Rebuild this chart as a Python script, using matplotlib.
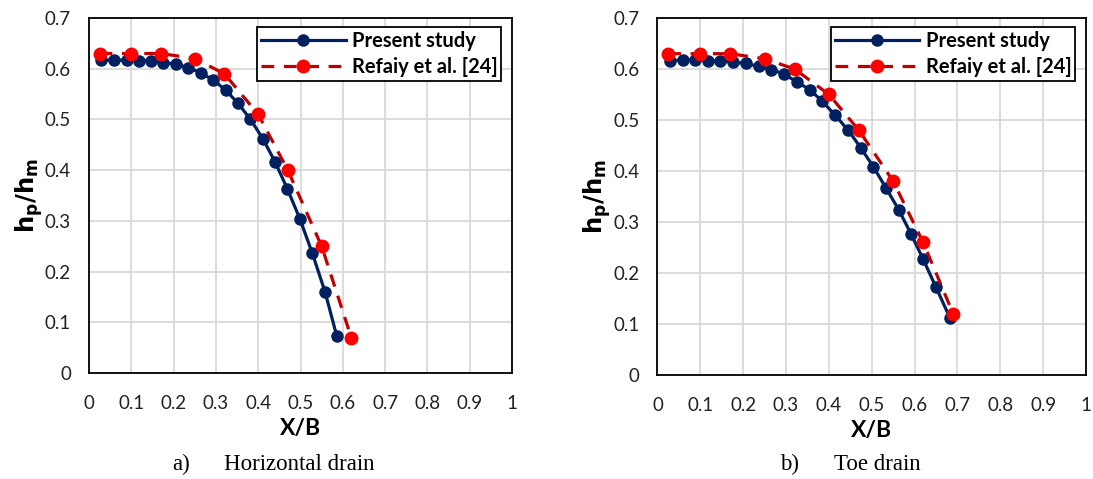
import numpy as np
import matplotlib
matplotlib.use("Agg")
import matplotlib.pyplot as plt

# a) Horizontal drain
x_hor_present = [0.028, 0.059, 0.089, 0.118, 0.147, 0.176, 0.206, 0.235, 0.264, 0.293,
                 0.323, 0.352, 0.381, 0.411, 0.440, 0.469, 0.499, 0.528, 0.558, 0.586]
y_hor_present = [0.617, 0.617, 0.617, 0.616, 0.616, 0.612, 0.609, 0.602, 0.592, 0.578,
                 0.558, 0.532, 0.501, 0.462, 0.416, 0.363, 0.303, 0.236, 0.160, 0.072]
x_hor_refaiy = [0.025, 0.10, 0.17, 0.25, 0.32, 0.40, 0.47, 0.55, 0.62]
y_hor_refaiy = [0.63, 0.63, 0.63, 0.62, 0.59, 0.51, 0.40, 0.25, 0.07]

# b) Toe drain
x_toe_present = [0.029, 0.059, 0.088, 0.117, 0.147, 0.177, 0.207, 0.236, 0.266, 0.295, 0.325, 0.356,
                 0.384, 0.414, 0.445, 0.474, 0.504, 0.533, 0.563, 0.592, 0.620, 0.650, 0.683]
y_toe_present = [0.616, 0.618, 0.618, 0.616, 0.616, 0.613, 0.611, 0.605, 0.599, 0.590, 0.575, 0.559,
                 0.537, 0.510, 0.480, 0.446, 0.408, 0.367, 0.324, 0.276, 0.227, 0.172, 0.111]
x_toe_refaiy = [0.025, 0.10, 0.17, 0.25, 0.32, 0.40, 0.47, 0.55, 0.62, 0.69]
y_toe_refaiy = [0.63, 0.63, 0.63, 0.62, 0.60, 0.55, 0.48, 0.38, 0.26, 0.12]

x_ticks = [0, 0.1, 0.2, 0.3, 0.4, 0.5, 0.6, 0.7, 0.8, 0.9, 1]
y_ticks = [0, 0.1, 0.2, 0.3, 0.4, 0.5, 0.6, 0.7]
x_ticklabels = ["0", "0.1", "0.2", "0.3", "0.4", "0.5", "0.6", "0.7", "0.8", "0.9", "1"]
y_ticklabels = ["0", "0.1", "0.2", "0.3", "0.4", "0.5", "0.6", "0.7"]

plt.rcParams["font.family"] = ["Lato", "DejaVu Sans"]

W, H = 1093, 479
fig = plt.figure(figsize=(W / 100, H / 100), dpi=100)

def px_axes(x0, y0, x1, y1):
	# pixel box (top-left origin) -> figure fraction
	return [x0 / W, 1 - y1 / H, (x1 - x0) / W, (y1 - y0) / H]

def draw_panel(ax, xp, yp, xr, yr):
	ax.plot(xp, yp, color="#002060", lw=2.3, marker="o", ms=8,
			mfc="#002060", mec="#002060", label="Present study", zorder=3)
	ax.plot(xr, yr, color="#C00000", lw=2.3, dashes=(4, 3), marker="o", ms=9,
			mfc="#FF0000", mec="#FF0000", label="Refaiy et al. [24]", zorder=4)
	ax.set_xlim(0, 1)
	ax.set_ylim(0, 0.7)
	ax.set_xticks(x_ticks)
	ax.set_yticks(y_ticks)
	ax.set_xticklabels(x_ticklabels)
	ax.set_yticklabels(y_ticklabels)
	ax.tick_params(length=0, labelsize=13.5, pad=13, colors="#222222")
	ax.tick_params(axis="x", pad=16)
	ax.grid(True, color="#d9d9d9", lw=1.3)
	ax.set_axisbelow(True)
	for s in ax.spines.values():
		s.set_color("black")
		s.set_linewidth(1.3)
	ax.set_xlabel("X/B", fontsize=16.5, fontweight="bold", labelpad=4)
	ax.set_ylabel(r"$\mathbf{h_p/h_m}$", fontsize=17.5, labelpad=0)
	leg = ax.legend(loc="upper right", bbox_to_anchor=(0.975, 0.975), frameon=True, fancybox=False,
					edgecolor="black", framealpha=1, handlelength=4.2, borderpad=0.2,
					labelspacing=0.3, handletextpad=0.3, borderaxespad=0,
					prop={"weight": "bold", "size": 14.5})
	leg.get_frame().set_linewidth(1.3)

ax1 = fig.add_axes(px_axes(89, 18, 512, 373))
draw_panel(ax1, x_hor_present, y_hor_present, x_hor_refaiy, y_hor_refaiy)

ax2 = fig.add_axes(px_axes(657.5, 18, 1086, 375))
draw_panel(ax2, x_toe_present, y_toe_present, x_toe_refaiy, y_toe_refaiy)

# captions below each panel
cap = dict(fontsize=16.5, family="Liberation Serif", va="center", ha="left")
fig.text(172 / W, 1 - 464 / H, "a)", **cap)
fig.text(224 / W, 1 - 464 / H, "Horizontal drain", **cap)
fig.text(780 / W, 1 - 464 / H, "b)", **cap)
fig.text(834 / W, 1 - 464 / H, "Toe drain", **cap)

fig.savefig("out.png", dpi=100)
